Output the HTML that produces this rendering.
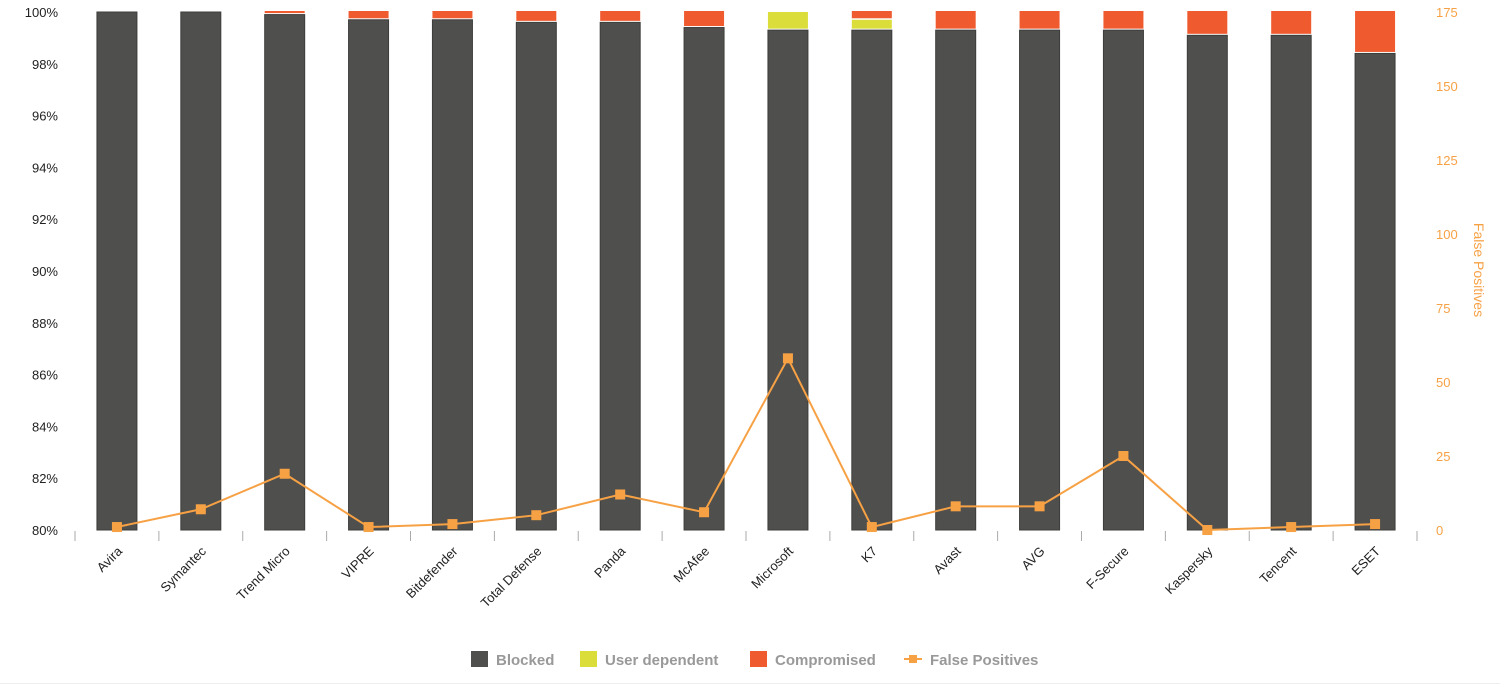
<!DOCTYPE html>
<html><head><meta charset="utf-8"><style>
body{margin:0;background:#fff;font-family:"Liberation Sans",sans-serif}
</style></head><body>
<svg id="chart" width="1500" height="685" xmlns="http://www.w3.org/2000/svg"></svg>
<script>
const categories=["Avira","Symantec","Trend Micro","VIPRE","Bitdefender","Total Defense","Panda","McAfee","Microsoft","K7","Avast","AVG","F-Secure","Kaspersky","Tencent","ESET"];
const blocked=[100,100,99.9,99.7,99.7,99.6,99.6,99.4,99.3,99.3,99.3,99.3,99.3,99.1,99.1,98.4];
const userDependent=[0,0,0,0,0,0,0,0,0.7,0.4,0,0,0,0,0,0];
const compromised=[0,0,0.1,0.3,0.3,0.4,0.4,0.6,0,0.3,0.7,0.7,0.7,0.9,0.9,1.6];
const falsePositives=[1,7,19,1,2,5,12,6,58,1,8,8,25,0,1,2];
const leftTicks=[80,82,84,86,88,90,92,94,96,98,100];
const rightTicks=[0,25,50,75,100,125,150,175];
const NS="http://www.w3.org/2000/svg";
const svg=document.getElementById('chart');
const X0=75,X1=1417,Y0=530,Y1=12;
const bw=(X1-X0)/categories.length;
const yL=v=>Y0-(v-80)/20*(Y0-Y1);
const yR=v=>Y0-v/175*(Y0-Y1);
const xc=i=>X0+bw*(i+0.5);
function mk(t,a,txt){const e=document.createElementNS(NS,t);for(const k in a)e.setAttribute(k,a[k]);if(txt!==undefined)e.textContent=txt;svg.appendChild(e);return e;}
leftTicks.forEach(v=>{const e=mk('text',{x:58,y:yL(v)+5,'text-anchor':'end','font-size':13,fill:'#222'},v+'%');

});
rightTicks.forEach(v=>{const e=mk('text',{x:1436,y:yR(v)+5,'text-anchor':'start','font-size':13,fill:'#f7a145'},v);

});
for(let i=0;i<=categories.length;i++){const e=mk('line',{x1:X0+bw*i,x2:X0+bw*i,y1:531,y2:541,stroke:'#aaa'});

}
categories.forEach((c,i)=>{
const x=xc(i),w=40;
let top=yL(blocked[i]);
const b=mk('rect',{x:x-w/2,y:top,width:w,height:Y0-top,fill:'#4f4f4d',stroke:'#3d3d3b','stroke-width':1});


let cur=blocked[i];
if(userDependent[i]>0){const yt=yL(cur+userDependent[i]);const u=mk('rect',{x:x-w/2,y:yt,width:w,height:top-yt-1.5,fill:'#dbdd3a'});


cur+=userDependent[i];top=yt;}
if(compromised[i]>0){const yt=yL(cur+compromised[i]);const r=mk('rect',{x:x-w/2,y:yt-1,width:w,height:Math.max(top-yt-0.5,1),fill:'#ef5a2f'});

}
const t=mk('text',{transform:`translate(${x+6},${552}) rotate(-45)`,'text-anchor':'end','font-size':13,fill:'#222'},c);


});
const pts=falsePositives.map((v,i)=>xc(i)+','+yR(v)).join(' ');
const pl=mk('polyline',{points:pts,fill:'none',stroke:'#f7a145','stroke-width':2});


falsePositives.forEach((v,i)=>{const m=mk('rect',{x:xc(i)-5,y:yR(v)-5,width:10,height:10,fill:'#f7a145'});

});
const at=mk('text',{transform:'translate(1474,270) rotate(90)','text-anchor':'middle','font-size':14,fill:'#f7a145'},'False Positives');


const leg=[["Blocked","#4f4f4d",471],["User dependent","#dbdd3a",580],["Compromised","#ef5a2f",750]];
leg.forEach(l=>{const r=mk('rect',{x:l[2],y:651,width:17,height:16,fill:l[1]});


const t=mk('text',{x:l[2]+25,y:665,'font-size':15,'font-weight':'bold',fill:'#999'},l[0]);

});
const ll=mk('line',{x1:904,x2:922,y1:659,y2:659,stroke:'#f7a145','stroke-width':2});


const lm=mk('rect',{x:909,y:655,width:8,height:8,fill:'#f7a145'});


const lt=mk('text',{x:930,y:665,'font-size':15,'font-weight':'bold',fill:'#999'},'False Positives');


const bl=mk('line',{x1:0,x2:1500,y1:683.5,y2:683.5,stroke:'#eee'});


</script>
</body></html>
